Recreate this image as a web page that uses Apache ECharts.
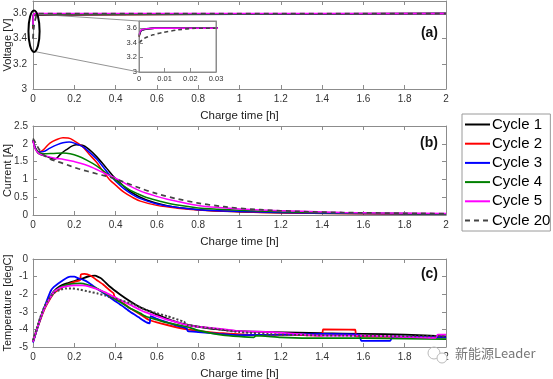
<!DOCTYPE html>
<html><head><meta charset="utf-8">
<script src="https://cdn.jsdelivr.net/npm/echarts@6/dist/echarts.min.js"></script>
<style>html,body{margin:0;padding:0;background:#fff}#c{width:553px;height:379px}</style>
</head><body><div id="c"></div>
<script>
// ---------- data ----------
const cycleNames = ['Cycle 1', 'Cycle 2', 'Cycle 3', 'Cycle 4', 'Cycle 5', 'Cycle 20'];
const xTimeLabel = 'Charge time [h]';
const panelNames = ['(a)', '(b)', '(c)'];
const yNames = ['Voltage [V]', 'Current [A]', 'Temperature [degC]'];

// (a) voltage [h, V]
const volt1 = [[0,3.48],[0.0005,3.54],[0.001,3.57],[0.003,3.59],[0.006,3.6],[2,3.6]];
const volt2 = [[0,3.49],[0.0005,3.55],[0.001,3.575],[0.003,3.592],[0.006,3.6],[2,3.6]];
const volt3 = [[0,3.5],[0.0005,3.55],[0.001,3.575],[0.003,3.593],[0.006,3.6],[2,3.6]];
const volt4 = [[0,3.5],[0.0005,3.555],[0.001,3.578],[0.003,3.594],[0.006,3.6],[2,3.6]];
const volt5 = [[0,3.51],[0.0005,3.56],[0.001,3.58],[0.003,3.595],[0.006,3.6],[2,3.6]];
const volt20 = [[0,3.40],[0.002,3.46],[0.0055,3.51],[0.009,3.54],[0.0155,3.58],[0.022,3.6],[2,3.6]];

// (b) current [h, A]
const cur1 = [[0,2.1],[0.01,1.9],[0.026,1.73],[0.067,1.64],[0.107,1.57],[0.13,1.69],[0.16,1.83],[0.21,1.97],[0.24,1.96],[0.27,1.85],[0.308,1.64],[0.357,1.31],[0.39,1.08],[0.43,0.86],[0.47,0.66],[0.55,0.42],[0.65,0.26],[0.8,0.15],[1.0,0.09],[1.2,0.06],[1.5,0.04],[2.0,0.03]];
const cur2 = [[0,2.1],[0.01,1.9],[0.03,1.77],[0.05,1.83],[0.082,2.02],[0.115,2.12],[0.145,2.17],[0.17,2.16],[0.19,2.12],[0.24,1.92],[0.27,1.72],[0.308,1.48],[0.34,1.22],[0.37,1.0],[0.4,0.84],[0.44,0.64],[0.48,0.5],[0.52,0.39],[0.6,0.27],[0.7,0.19],[0.8,0.14],[1.0,0.09],[1.2,0.06],[1.5,0.04],[2,0.03]];
const cur3 = [[0,2.1],[0.01,1.9],[0.03,1.77],[0.05,1.78],[0.082,1.88],[0.115,1.97],[0.145,2.03],[0.175,2.05],[0.2,2.02],[0.24,1.92],[0.27,1.78],[0.308,1.57],[0.34,1.35],[0.37,1.13],[0.4,0.95],[0.44,0.74],[0.48,0.58],[0.52,0.46],[0.6,0.31],[0.7,0.21],[0.8,0.15],[1.0,0.1],[1.2,0.07],[1.5,0.05],[2,0.03]];
const cur4 = [[0,2.1],[0.01,1.88],[0.03,1.75],[0.05,1.72],[0.1,1.73],[0.145,1.74],[0.18,1.72],[0.22,1.65],[0.26,1.54],[0.308,1.38],[0.35,1.2],[0.39,1.02],[0.43,0.85],[0.47,0.7],[0.51,0.59],[0.55,0.49],[0.62,0.38],[0.7,0.28],[0.8,0.2],[0.9,0.16],[1.0,0.13],[1.2,0.09],[1.5,0.06],[2,0.03]];
const cur5 = [[0,2.1],[0.01,1.86],[0.03,1.72],[0.05,1.68],[0.1,1.6],[0.15,1.56],[0.2,1.5],[0.25,1.42],[0.3,1.3],[0.35,1.16],[0.39,1.06],[0.43,0.94],[0.47,0.81],[0.51,0.7],[0.55,0.61],[0.6,0.52],[0.65,0.44],[0.7,0.38],[0.8,0.27],[0.9,0.21],[1.0,0.17],[1.2,0.12],[1.5,0.07],[2,0.04]];
const cur20 = [[0,2.15],[0.015,2.0],[0.03,1.84],[0.05,1.7],[0.08,1.58],[0.145,1.45],[0.22,1.3],[0.308,1.16],[0.39,1.03],[0.47,0.86],[0.55,0.69],[0.65,0.52],[0.75,0.39],[0.85,0.29],[1.0,0.19],[1.2,0.12],[1.5,0.07],[2,0.04]];

// (c) temperature [h, degC]
const tmp1 = [[0,-4.7],[0.018,-4.0],[0.034,-3.43],[0.05,-2.9],[0.066,-2.5],[0.1,-1.85],[0.13,-1.55],[0.16,-1.4],[0.2,-1.25],[0.24,-1.1],[0.27,-0.98],[0.3,-0.95],[0.33,-1.1],[0.37,-1.55],[0.42,-2.0],[0.47,-2.4],[0.52,-2.75],[0.57,-3.0],[0.63,-3.3],[0.7,-3.6],[0.8,-3.85],[0.9,-4.0],[1.0,-4.1],[1.16,-4.15],[1.4,-4.22],[1.6,-4.25],[1.8,-4.3],[2,-4.4]];
const tmp2 = [[0,-4.7],[0.018,-4.05],[0.034,-3.5],[0.05,-3.0],[0.066,-2.6],[0.1,-1.95],[0.13,-1.7],[0.16,-1.5],[0.2,-1.3],[0.228,-1.2],[0.232,-0.88],[0.25,-0.85],[0.28,-0.95],[0.308,-1.19],[0.34,-1.45],[0.37,-1.76],[0.39,-1.95],[0.395,-2.15],[0.43,-2.45],[0.47,-2.8],[0.52,-3.15],[0.56,-3.45],[0.6,-3.6],[0.65,-3.75],[0.744,-4.0],[0.8,-4.08],[0.92,-4.22],[1.07,-4.32],[1.2,-4.3],[1.4,-4.35],[1.405,-4.0],[1.56,-4.02],[1.565,-4.38],[1.8,-4.42],[2,-4.45]];
const tmp3 = [[0,-4.75],[0.018,-4.05],[0.034,-3.45],[0.05,-2.9],[0.066,-2.4],[0.084,-1.86],[0.1,-1.6],[0.147,-1.19],[0.18,-1.0],[0.2,-1.0],[0.22,-1.1],[0.244,-1.19],[0.27,-1.35],[0.308,-1.67],[0.35,-2.0],[0.39,-2.33],[0.43,-2.65],[0.47,-3.0],[0.51,-3.3],[0.55,-3.6],[0.565,-3.65],[0.57,-3.25],[0.6,-3.4],[0.65,-3.6],[0.7,-3.8],[0.744,-3.94],[0.75,-4.1],[0.8,-4.15],[0.9,-4.25],[1.0,-4.32],[1.2,-4.3],[1.4,-4.25],[1.58,-4.3],[1.59,-4.65],[1.73,-4.65],[1.74,-4.4],[2,-4.45]];
const tmp4 = [[0,-4.7],[0.018,-4.0],[0.034,-3.45],[0.05,-2.95],[0.066,-2.55],[0.1,-1.9],[0.13,-1.62],[0.16,-1.47],[0.2,-1.4],[0.23,-1.38],[0.26,-1.45],[0.308,-1.67],[0.35,-1.95],[0.39,-2.23],[0.43,-2.5],[0.47,-2.8],[0.52,-3.09],[0.55,-3.28],[0.6,-3.45],[0.65,-3.62],[0.7,-3.75],[0.744,-3.84],[0.8,-4.05],[0.92,-4.32],[1.07,-4.45],[1.08,-4.35],[1.2,-4.45],[1.4,-4.5],[1.6,-4.5],[1.8,-4.52],[2,-4.55]];
const tmp5 = [[0,-4.7],[0.018,-4.0],[0.034,-3.45],[0.05,-2.95],[0.066,-2.55],[0.1,-1.9],[0.13,-1.65],[0.16,-1.55],[0.2,-1.5],[0.24,-1.5],[0.27,-1.55],[0.308,-1.7],[0.35,-1.9],[0.39,-2.14],[0.43,-2.37],[0.47,-2.6],[0.52,-2.9],[0.55,-3.05],[0.6,-3.25],[0.65,-3.45],[0.7,-3.6],[0.744,-3.75],[0.8,-3.85],[0.92,-3.98],[1.0,-4.1],[1.16,-4.15],[1.4,-4.35],[1.6,-4.35],[1.8,-4.42],[1.95,-4.48],[1.96,-4.3],[2,-4.3]];
const tmp20 = [[0,-4.6],[0.018,-3.95],[0.034,-3.35],[0.05,-2.85],[0.066,-2.45],[0.1,-1.95],[0.13,-1.75],[0.16,-1.67],[0.19,-1.67],[0.23,-1.75],[0.27,-1.85],[0.31,-1.95],[0.35,-2.08],[0.39,-2.23],[0.47,-2.5],[0.55,-2.9],[0.6,-3.08],[0.65,-3.25],[0.73,-3.56],[0.75,-3.75],[0.8,-3.85],[0.9,-4.0],[1.0,-4.15],[1.2,-4.3],[1.5,-4.35],[2,-4.4]];

const voltData = [volt1, volt2, volt3, volt4, volt5, volt20];
const curData = [cur1, cur2, cur3, cur4, cur5, cur20];
const tmpData = [tmp1, tmp2, tmp3, tmp4, tmp5, tmp20];

// ---------- styles ----------
const colors = ['#000000', '#ff0000', '#0000ff', '#008000', '#ff00ff', '#444444'];
const FONT = '"Liberation Sans", Arial, sans-serif';
const axisCol = '#8c8c8c';
const labCol = '#333333';

const chart = echarts.init(document.getElementById('c'), null, {renderer: 'canvas'});

function xAx(grid, pos, show, min, max, interval, name, fs, margin) {
  return {
    type: 'value', gridIndex: grid, position: pos, min: min, max: max, interval: interval,
    name: name || '', nameLocation: 'middle', nameGap: 21, nameMoveOverlap: false,
    nameTextStyle: {fontFamily: FONT, fontSize: 11.5, color: '#222'},
    axisLine: {show: true, onZero: false, lineStyle: {color: axisCol, width: 1}},
    axisTick: {show: true, inside: true, length: 4, lineStyle: {color: axisCol}},
    axisLabel: {show: show, fontFamily: FONT, fontSize: fs || 10, color: labCol, margin: margin || 5},
    splitLine: {show: false}
  };
}
function yAx(grid, pos, show, min, max, interval, name, fs, margin, hideMax) {
  return {
    type: 'value', gridIndex: grid, position: pos, min: min, max: max, interval: interval,
    name: name || '', nameLocation: 'middle', nameGap: 20, nameMoveOverlap: false,
    nameTextStyle: {fontFamily: FONT, fontSize: 11, color: '#222'},
    axisLine: {show: true, onZero: false, lineStyle: {color: axisCol, width: 1}},
    axisTick: {show: true, inside: true, length: 4, lineStyle: {color: axisCol}},
    axisLabel: {show: show, fontFamily: FONT, fontSize: fs || 10, color: labCol, margin: margin || 5,
      showMaxLabel: !hideMax},
    splitLine: {show: false}
  };
}

const gridBase = {outerBoundsMode: 'none', containLabel: false};
const grids = [
  Object.assign({left: 33, right: 107, top: 1, height: 88}, gridBase),
  Object.assign({left: 139, top: 21, width: 77, height: 51, show: true, backgroundColor: '#fff', borderWidth: 0, z: 5}, gridBase),
  Object.assign({left: 33, right: 107, top: 126, height: 89}, gridBase),
  Object.assign({left: 33, right: 107, top: 259, height: 88}, gridBase)
];

const xAxes = [
  xAx(0, 'bottom', true, 0, 2, 0.2, xTimeLabel),
  xAx(0, 'top', false, 0, 2, 0.2),
  Object.assign(xAx(1, 'bottom', true, 0, 0.03, 0.01, '', 7.5, 3), {z: 6}),
  Object.assign(xAx(1, 'top', false, 0, 0.03, 0.01), {z: 6, axisTick: {show: false}}),
  xAx(2, 'bottom', true, 0, 2, 0.2, xTimeLabel),
  xAx(2, 'top', false, 0, 2, 0.2),
  xAx(3, 'bottom', true, 0, 2, 0.2, xTimeLabel),
  xAx(3, 'top', false, 0, 2, 0.2)
];
const yAxes = [
  yAx(0, 'left', true, 3, 3.7, 0.2, yNames[0], 10, 6, true),
  yAx(0, 'right', false, 3, 3.7, 0.2),
  Object.assign(yAx(1, 'left', true, 3, 3.7, 0.2, '', 7.5, 2, true), {z: 6}),
  Object.assign(yAx(1, 'right', false, 3, 3.7, 0.2), {z: 6, axisTick: {show: false}}),
  yAx(2, 'left', true, 0, 2.5, 0.5, yNames[1], 10, 5),
  yAx(2, 'right', false, 0, 2.5, 0.5),
  yAx(3, 'left', true, -5, 0, 1, yNames[2], 10, 5),
  yAx(3, 'right', false, -5, 0, 1)
];

const series = [];
function addPanel(dataSets, xi, yi, width, dashType, z, smooth) {
  dataSets.forEach((d, i) => {
    const isRef = i === dataSets.length - 1;
    series.push({
      type: 'line', name: cycleNames[i], xAxisIndex: xi, yAxisIndex: yi,
      data: d, symbol: 'none', showSymbol: false, smooth: smooth, z: z,
      clip: true, animation: false,
      lineStyle: {color: colors[i], width: isRef ? width + 0.2 : width, type: isRef ? dashType : 'solid'},
      itemStyle: {color: colors[i]}
    });
  });
}
addPanel(voltData, 0, 0, 1.6, [5, 4], 2, false);
addPanel(voltData, 2, 2, 1.4, [4, 3], 7, 0.3);
addPanel(curData, 4, 4, 1.5, [5, 4], 2, 0.35);
addPanel(tmpData, 6, 6, 1.8, [2, 2], 2, 0.15);

const option = {
  animation: false,
  backgroundColor: '#ffffff',
  grid: grids,
  xAxis: xAxes,
  yAxis: yAxes,
  series: series,
  title: [
    {text: panelNames[0], right: 115, top: 26},
    {text: panelNames[1], right: 115, top: 136},
    {text: panelNames[2], right: 115, top: 267}
  ].map(t => Object.assign(t, {textStyle: {fontFamily: FONT, fontSize: 14, fontWeight: 'bold', color: '#111'}, padding: 0})),
  legend: {
    data: cycleNames, orient: 'vertical', left: 462, top: 114,
    itemWidth: 25, itemHeight: 14, itemGap: 4.2, padding: [3, 0, 3, 2],
    borderColor: '#9a9a9a', borderWidth: 1, selectedMode: false,
    itemStyle: {opacity: 0, borderWidth: 0},
    textStyle: {fontFamily: FONT, fontSize: 15, color: '#000', padding: [0, 0, 0, -3]}
  }
};
chart.setOption(option);

// ---------- callout (ellipse + connector lines) computed from the axes ----------
const calloutCenter = [0.005, 3.46];
const calloutRadius = [0.027, 0.165];
const c0 = chart.convertToPixel({gridIndex: 0}, calloutCenter);
const c1 = chart.convertToPixel({gridIndex: 0}, [calloutCenter[0] + calloutRadius[0], calloutCenter[1] + calloutRadius[1]]);
const rx = Math.abs(c1[0] - c0[0]), ry = Math.abs(c1[1] - c0[1]);
const insetTL = chart.convertToPixel({gridIndex: 1}, [0, 3.7]);
const insetBL = chart.convertToPixel({gridIndex: 1}, [0, 3.0]);
const insetBR = chart.convertToPixel({gridIndex: 1}, [0.03, 3.0]);
const pAt = a => [c0[0] + rx * Math.cos(a * Math.PI / 180), c0[1] - ry * Math.sin(a * Math.PI / 180)];
const pTop = pAt(55), pBot = pAt(-80);

chart.setOption({
  graphic: [
    {type: 'line', z: 10, shape: {x1: pTop[0], y1: pTop[1], x2: insetTL[0], y2: insetTL[1]}, style: {stroke: '#777', lineWidth: 0.8}},
    {type: 'line', z: 10, shape: {x1: pBot[0], y1: pBot[1], x2: insetBL[0], y2: insetBL[1]}, style: {stroke: '#777', lineWidth: 0.8}},
    {type: 'ellipse', z: 11, shape: {cx: c0[0], cy: c0[1], rx: rx, ry: ry}, style: {stroke: '#000', fill: 'none', lineWidth: 2}},
    {type: 'rect', z: 100, shape: {x: insetTL[0], y: insetTL[1], width: insetBR[0] - insetTL[0], height: insetBL[1] - insetTL[1]}, style: {stroke: '#8c8c8c', fill: 'none', lineWidth: 1}},
    {type: 'circle', z: 10, shape: {cx: 434, cy: 353, r: 6}, style: {stroke: '#bbb', fill: 'none', lineWidth: 1}},
    {type: 'circle', z: 10, shape: {cx: 442, cy: 358, r: 5}, style: {stroke: '#bbb', fill: '#fff', lineWidth: 1}},
    {type: 'text', z: 10, left: 455, top: 347, style: {text: '新能源Leader', fontSize: 13, fill: '#777', fontFamily: '"Noto Sans CJK SC", sans-serif'}}
  ]
});
</script>
</body></html>
